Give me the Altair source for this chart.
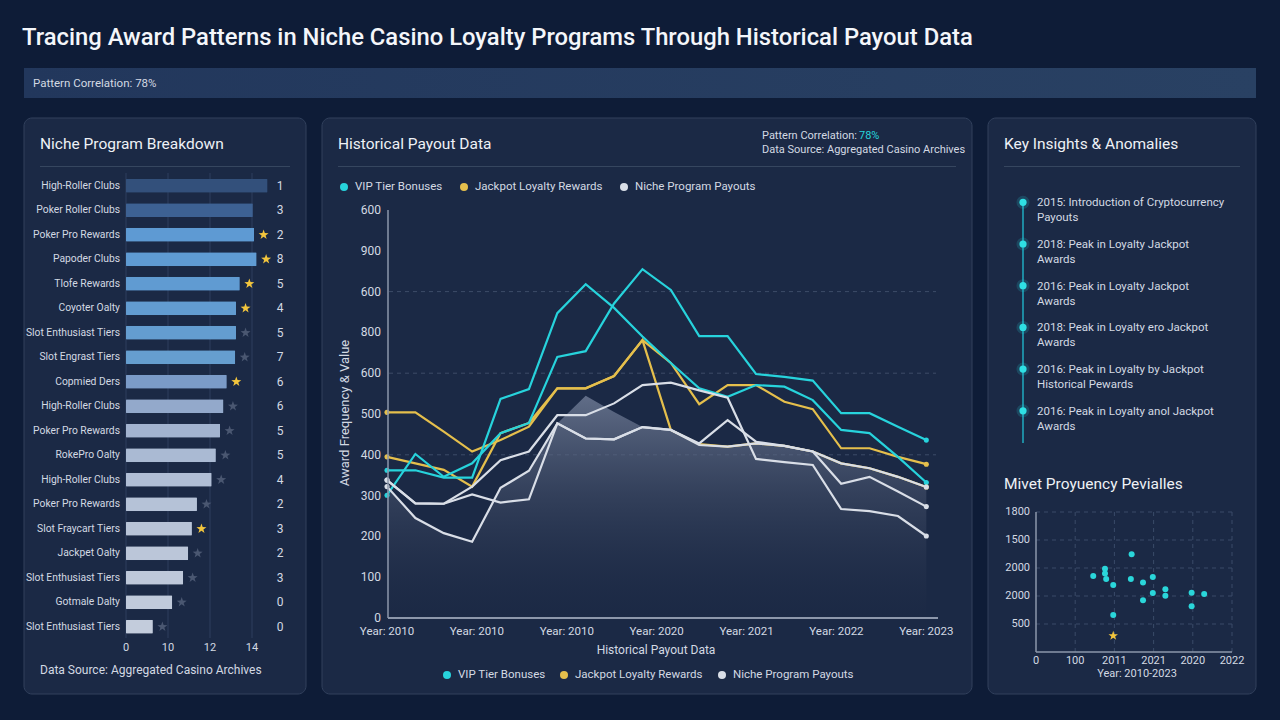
import altair as alt
import pandas as pd

# ------------------------------------------------------------------ data
TITLE = "Tracing Award Patterns in Niche Casino Loyalty Programs Through Historical Payout Data"
BANNER_TEXT = "Pattern Correlation: 78%"

LEFT_TITLE = "Niche Program Breakdown"
LEFT_SOURCE = "Data Source: Aggregated Casino Archives"
bar_labels = [
    "High-Roller Clubs", "Poker Roller Clubs", "Poker Pro Rewards", "Papoder Clubs",
    "Tlofe Rewards", "Coyoter Oalty", "Slot Enthusiast Tiers", "Slot Engrast Tiers",
    "Copmied Ders", "High-Roller Clubs", "Poker Pro Rewards", "RokePro Oalty",
    "High-Roller Clubs", "Poker Pro Rewards", "Slot Fraycart Tiers", "Jackpet Oalty",
    "Slot Enthusiast Tiers", "Gotmale Dalty", "Slot Enthusiast Tiers",
]
bar_values = [3.37, 3.02, 3.05, 3.11, 2.71, 2.62, 2.62, 2.60, 2.40, 2.32,
              2.24, 2.14, 2.04, 1.69, 1.57, 1.48, 1.36, 1.10, 0.64]
bar_ranks = ["1", "3", "2", "8", "5", "4", "5", "7", "6", "6",
             "5", "5", "4", "2", "3", "2", "3", "0", "0"]
bar_stars = ["none", "none", "gold", "gold", "gold", "gold", "grey", "grey", "gold", "grey",
             "grey", "grey", "grey", "grey", "gold", "grey", "grey", "grey", "grey"]
bar_ticks = [0, 1, 2, 3]
bar_tick_labels = ["0", "10", "12", "14"]

MID_TITLE = "Historical Payout Data"
MID_NOTE_1 = "Pattern Correlation: "
MID_NOTE_PCT = "78%"
MID_NOTE_2 = "Data Source: Aggregated Casino Archives"
series_names = ["VIP Tier Bonuses", "Jackpot Loyalty Rewards", "Niche Program Payouts"]
vip_a = [362, 362, 344, 344, 537, 561, 747, 818, 760, 690, 625, 563, 542, 571, 567, 534, 461, 453, 395, 332]
vip_b = [301, 402, 346, 379, 453, 478, 640, 654, 771, 855, 804, 691, 691, 598, 591, 582, 502, 502, 469, 436]
jackpot_a = [504, 504, 457, 408, 436, 469, 563, 563, 593, 681, 461, 426, 420, 428, 422, 408, 379, 367, 346, 321]
jackpot_b = [395, 379, 363, 322, 453, 478, 563, 563, 593, 681, 625, 524, 571, 571, 530, 512, 416, 416, 395, 377]
niche_a = [338, 281, 280, 303, 283, 291, 477, 440, 438, 468, 461, 428, 485, 432, 422, 408, 329, 346, 310, 273]
niche_b = [338, 281, 280, 322, 387, 408, 497, 497, 526, 571, 577, 558, 540, 390, 382, 375, 267, 262, 250, 201]
niche_c = [322, 245, 208, 187, 319, 361, 477, 440, 438, 468, 461, 424, 420, 428, 422, 408, 379, 367, 346, 321]
niche_area = [322, 245, 208, 187, 319, 361, 477, 545, 505, 468, 461, 424, 420, 428, 422, 408, 379, 367, 346, 321]
year_ticks = [0, 1, 2, 3, 4, 5, 6]
year_labels = ["Year: 2010", "Year: 2010", "Year: 2010", "Year: 2020", "Year: 2021", "Year: 2022", "Year: 2023"]
value_ticks = [0, 100, 200, 300, 400, 500, 600, 700, 800, 900, 1000]
value_tick_labels = ["0", "100", "200", "300", "400", "500", "600", "800", "600", "900", "600"]
grid_values = [400, 600, 800]
Y_TITLE = "Award Frequency & Value"
X_TITLE = "Historical Payout Data"

RIGHT_TITLE = "Key Insights & Anomalies"
insights = [
    "2015: Introduction of Cryptocurrency\nPayouts",
    "2018: Peak in Loyalty Jackpot\nAwards",
    "2016: Peak in Loyalty Jackpot\nAwards",
    "2018: Peak in Loyalty ero Jackpot\nAwards",
    "2016: Peak in Loyalty by Jackpot\nHistorical Pewards",
    "2016: Peak in Loyalty anol Jackpot\nAwards",
]
SCATTER_TITLE = "Mivet Proyuency Pevialles"
SCATTER_X_TITLE = "Year: 2010-2023"
scatter_x = [1.46, 1.76, 1.76, 1.79, 1.97, 1.97, 2.44, 2.42, 2.73, 2.73, 2.98, 2.98, 3.30, 3.30, 3.97, 3.97, 4.29]
scatter_y = [2.71, 2.97, 2.80, 2.61, 2.39, 1.32, 3.49, 2.61, 2.48, 1.85, 2.68, 2.11, 2.24, 2.01, 2.12, 1.63, 2.07]
outlier_x = [1.97]
outlier_y = [0.58]
scatter_x_ticks = [0, 1, 2, 3, 4, 5]
scatter_x_labels = ["0", "100", "2011", "2021", "2020", "2022"]
scatter_y_ticks = [1, 2, 3, 4, 5]
scatter_y_labels = ["500", "2000", "2000", "1500", "1800"]

# ------------------------------------------------------------------ style / layout
W, H = 1280, 720
FONT = "Roboto"
BG = "#0e1c37"
PANEL_FILL = "#1b2945"
PANEL_STROKE = "#32415d"
SEP = "#36465f"
TXT = "#eef1f6"
TXT2 = "#d3d9e3"
AXIS_LINE = "#8d97ab"
GRID = "#2f3f5e"
CYAN = "#27d3dc"
GOLD = "#e5bf4c"
WHITE = "#d9dee7"
STAR_GOLD = "#f2c53d"
STAR_GREY = "#4a5771"
BAR_FILLS = ["#33507b", "#3d6193", "#5e9ad3", "#5f9bd3", "#609bd2", "#629cd1", "#649dd0",
             "#669ecf", "#7b9bc8", "#93a9cb", "#a2b3cf", "#aabad3", "#b0bed5", "#b5c2d7",
             "#b8c4d8", "#bbc6d9", "#bec8da", "#c0cadb", "#c3ccdc"]
STAR = ("M0,-1L0.235,-0.324L0.951,-0.309L0.38,0.124L0.588,0.809L0,0.4"
        "L-0.588,0.809L-0.38,0.124L-0.951,-0.309L-0.235,-0.324Z")

PANELS = [(24, 306, 118, 694), (322, 972, 118, 694), (988, 1256, 118, 694)]
SEPARATORS = [(40, 290, 166.5), (338, 956, 166.5), (1004, 1240, 166.5)]
LEGEND_TOP = ([344, 464, 624], 187)
LEGEND_BOTTOM = ([447, 564, 722], 675)
INSIGHT_Y = [202.3, 244.0, 285.7, 327.4, 369.1, 410.8]

# plot frames (pixels)
BAR_X, BAR_Y = (126, 252), (173.5, 639)
MID_X, MID_Y = (387, 938), (618, 210)
SC_X, SC_Y = (1036, 1232), (652, 512)


def PX(field):
    return alt.X(field, type="quantitative", scale=None, axis=None)


def PY(field):
    return alt.Y(field, type="quantitative", scale=None, axis=None)


def texts(rows, font=FONT, weight="normal", align="left", baseline="middle", **kw):
    df = pd.DataFrame(rows, columns=["x", "y", "text", "size", "color"])
    return alt.Chart(df).mark_text(font=font, fontWeight=weight, align=align,
                                   baseline=baseline, **kw).encode(
        x=PX("x"), y=PY("y"), text="text:N",
        size=alt.Size("size:Q", scale=None, legend=None),
        color=alt.Color("color:N", scale=None, legend=None),
    )


def tick_text(field, ticks, labels, channel, fixed, align, size, dx=0):
    df = pd.DataFrame({field: ticks, "label": labels})
    enc = {"text": "label:N"}
    if channel == "x":
        enc["x"] = alt.X(f"{field}:Q", axis=None)
        enc["y"] = alt.value(fixed)
    else:
        enc["y"] = alt.Y(f"{field}:Q", axis=None)
        enc["x"] = alt.value(fixed)
    return alt.Chart(df).mark_text(font=FONT, fontSize=size, align=align, baseline="middle",
                                   color=TXT2, dx=dx).encode(**enc)


def frame_rule(x, y, x2=None, y2=None, width=1.2):
    enc = {"x": alt.value(x), "y": alt.value(y)}
    if x2 is not None:
        enc["x2"] = alt.value(x2)
    if y2 is not None:
        enc["y2"] = alt.value(y2)
    return alt.Chart(pd.DataFrame({"k": [0]})).mark_rule(color=AXIS_LINE, strokeWidth=width).encode(**enc)


series_scale = alt.Scale(domain=series_names, range=[CYAN, GOLD, WHITE])

layers = []

# ---- panels, banner, separators
panels_df = pd.DataFrame(PANELS, columns=["x", "x2", "y", "y2"])
layers.append(alt.Chart(panels_df).mark_rect(cornerRadius=8, fill=PANEL_FILL, stroke=PANEL_STROKE,
                                             strokeWidth=1).encode(
    x=PX("x"), x2="x2:Q", y=PY("y"), y2="y2:Q"))
banner_df = pd.DataFrame([(24, 1256, 68, 98)], columns=["x", "x2", "y", "y2"])
layers.append(alt.Chart(banner_df).mark_rect(
    color=alt.Gradient(gradient="linear", stops=[alt.GradientStop(color="#22375c", offset=0),
                                                 alt.GradientStop(color="#294163", offset=1)],
                       x1=0, x2=1, y1=0, y2=0)).encode(
    x=PX("x"), x2="x2:Q", y=PY("y"), y2="y2:Q"))
sep_df = pd.DataFrame(SEPARATORS, columns=["x", "x2", "y"])
layers.append(alt.Chart(sep_df).mark_rule(color=SEP, strokeWidth=1).encode(
    x=PX("x"), x2="x2:Q", y=PY("y")))

# ---- headings and notes
layers.append(texts([(22, 38, TITLE, 23.8, "#f4f6fa")], weight=500))
layers.append(texts([
    (40, 144, LEFT_TITLE, 15.5, TXT),
    (338, 144, MID_TITLE, 15.5, TXT),
    (1004, 144, RIGHT_TITLE, 15.5, TXT),
    (1004, 484, SCATTER_TITLE, 15.5, TXT),
]))
layers.append(texts([
    (33, 84, BANNER_TEXT, 11.5, TXT2),
    (40, 670, LEFT_SOURCE, 12, TXT2),
    (762, 136, MID_NOTE_1, 11, TXT2),
    (859, 136, MID_NOTE_PCT, 11, CYAN),
    (762, 150, MID_NOTE_2, 11, TXT2),
]))
layers.append(texts([
    (656, 650, X_TITLE, 12, TXT2),
    (1137, 674, SCATTER_X_TITLE, 11, TXT2),
], align="center"))
layers.append(texts([(345, 413, Y_TITLE, 13, TXT2)], align="center", angle=270))

# ---- left: bar chart
bars_df = pd.DataFrame({"idx": range(len(bar_labels)), "label": bar_labels, "value": bar_values,
                        "rank": bar_ranks, "star": bar_stars, "fill": BAR_FILLS})
bar_grid_df = pd.DataFrame({"value": bar_ticks})
bx_scale = alt.Scale(domain=[0, 3], range=list(BAR_X), nice=False, zero=False)
by_scale = alt.Scale(range=list(BAR_Y), paddingInner=0.43, paddingOuter=0.215)
bar_grid = alt.Chart(bar_grid_df).mark_rule(color=GRID, strokeWidth=1).encode(
    x=alt.X("value:Q", axis=None), y=alt.value(173), y2=alt.value(638))
bars = alt.Chart(bars_df).mark_bar(cornerRadius=1).encode(
    x=alt.X("value:Q", scale=bx_scale, axis=None),
    y=alt.Y("idx:O", scale=by_scale, axis=None),
    color=alt.Color("fill:N", scale=None, legend=None),
)
stars = alt.Chart(bars_df[bars_df["star"] != "none"]).mark_point(
    shape=STAR, filled=True, size=110, opacity=1, xOffset=9.5).encode(
    x=alt.X("value:Q", axis=None), y=alt.Y("idx:O", axis=None),
    color=alt.Color("star:N", scale=alt.Scale(domain=["gold", "grey"], range=[STAR_GOLD, STAR_GREY]),
                    legend=None))
bar_names = alt.Chart(bars_df).mark_text(font=FONT, fontSize=10.3, align="right", color=TXT2).encode(
    x=alt.value(120), y=alt.Y("idx:O", axis=None), text="label:N")
bar_nums = alt.Chart(bars_df).mark_text(font=FONT, fontSize=12, align="center", color=TXT2).encode(
    x=alt.value(280), y=alt.Y("idx:O", axis=None), text="rank:N")
bar_xlabels = tick_text("value", bar_ticks, bar_tick_labels, "x", 648, "center", 11)
layers.append(alt.layer(bar_grid, bars, stars, bar_names, bar_nums, bar_xlabels))

# ---- middle: line chart
step = 6 / 19
line_sets = [
    ("vip_a", series_names[0], vip_a), ("vip_b", series_names[0], vip_b),
    ("jackpot_a", series_names[1], jackpot_a), ("jackpot_b", series_names[1], jackpot_b),
    ("niche_a", series_names[2], niche_a), ("niche_b", series_names[2], niche_b),
    ("niche_c", series_names[2], niche_c),
]
recs = []
for lid, grp, vals in line_sets:
    for i, v in enumerate(vals):
        recs.append({"line": lid, "group": grp, "i": i, "t": i * step, "value": v})
lines_df = pd.DataFrame(recs)
area_df = pd.DataFrame({"t": [i * step for i in range(len(niche_area))], "value": niche_area})
grid_df = pd.DataFrame({"value": grid_values})

lx_scale = alt.Scale(domain=[0, 6.13], range=list(MID_X), nice=False, zero=False)
ly_scale = alt.Scale(domain=[0, 1000], range=list(MID_Y), nice=False)
mid_grid = alt.Chart(grid_df).mark_rule(color="#3d4c68", strokeDash=[4, 4], strokeWidth=1).encode(
    y=alt.Y("value:Q", axis=None), x=alt.value(389), x2=alt.value(936))
mid_area = alt.Chart(area_df).mark_area(
    color=alt.Gradient(gradient="linear",
                       stops=[alt.GradientStop(color="rgba(120,132,158,0.75)", offset=0),
                              alt.GradientStop(color="rgba(70,82,108,0.55)", offset=0.45),
                              alt.GradientStop(color="rgba(30,42,68,0.15)", offset=1)],
                       x1=1, x2=1, y1=0, y2=1)).encode(
    x=alt.X("t:Q", scale=lx_scale, axis=None),
    y=alt.Y("value:Q", scale=ly_scale, axis=None),
)


def line_layer(grp):
    return alt.Chart(lines_df[lines_df["group"] == grp]).mark_line(strokeWidth=2.2).encode(
        x=alt.X("t:Q", axis=None), y=alt.Y("value:Q", axis=None),
        color=alt.Color("group:N", scale=series_scale, legend=None), detail="line:N")


ends_df = lines_df[lines_df["i"].isin([0, 19])]
mid_dots = alt.Chart(ends_df).mark_circle(size=26, opacity=1).encode(
    x=alt.X("t:Q", axis=None), y=alt.Y("value:Q", axis=None),
    color=alt.Color("group:N", scale=series_scale, legend=None))
mid_xlabels = tick_text("t", year_ticks, year_labels, "x", 632, "center", 11.5)
mid_ylabels = tick_text("value", value_ticks, value_tick_labels, "y", 381, "right", 12)
layers.append(alt.layer(mid_grid, mid_area, line_layer(series_names[1]),
                        line_layer(series_names[0]), line_layer(series_names[2]), mid_dots,
                        mid_xlabels, mid_ylabels))
layers.append(frame_rule(MID_X[0] + 1, MID_Y[1], y2=MID_Y[0], width=1.5))
layers.append(frame_rule(MID_X[0] + 1, MID_Y[0], x2=MID_X[1], width=2))

# ---- legends
for xs, ly in (LEGEND_TOP, LEGEND_BOTTOM):
    leg_df = pd.DataFrame({"name": series_names, "x": xs, "y": [ly] * 3})
    leg_df["tx"] = leg_df["x"] + 11
    layers.append(alt.Chart(leg_df).mark_circle(size=64, opacity=1).encode(
        x=PX("x"), y=PY("y"), color=alt.Color("name:N", scale=series_scale, legend=None)))
    layers.append(alt.Chart(leg_df).mark_text(font=FONT, fontSize=11.5, align="left",
                                              baseline="middle", color=TXT2).encode(
        x=PX("tx"), y=PY("y"), text="name:N"))

# ---- right: insights timeline
ins_df = pd.DataFrame({"text": insights, "y": INSIGHT_Y})
ins_df["ty"] = ins_df["y"] - 5
layers.append(alt.Chart(pd.DataFrame({"y": [202], "y2": [443]})).mark_rule(
    color="#1e8aa1", strokeWidth=2).encode(x=alt.value(1023), y=PY("y"), y2="y2:Q"))
layers.append(alt.Chart(ins_df).mark_circle(size=170, opacity=0.18, color=CYAN).encode(
    x=alt.value(1023), y=PY("y")))
layers.append(alt.Chart(ins_df).mark_circle(size=52, opacity=1, color="#2fe0e4").encode(
    x=alt.value(1023), y=PY("y")))
layers.append(alt.Chart(ins_df).mark_text(font=FONT, fontSize=11.5, align="left", baseline="top",
                                          lineBreak="\n", lineHeight=15, color=TXT2).encode(
    x=alt.value(1037), y=PY("ty"), text="text:N"))

# ---- right: scatter
sc_df = pd.DataFrame({"u": scatter_x, "v": scatter_y})
out_df = pd.DataFrame({"u": outlier_x, "v": outlier_y})
sx_scale = alt.Scale(domain=[0, 5], range=list(SC_X), nice=False, zero=False)
sy_scale = alt.Scale(domain=[0, 5], range=list(SC_Y), nice=False, zero=False)
vgrid = alt.Chart(pd.DataFrame({"u": scatter_x_ticks[1:]})).mark_rule(
    color="#3a4a68", strokeDash=[4, 4], strokeWidth=1).encode(
    x=alt.X("u:Q", axis=None), y=alt.value(SC_Y[1]), y2=alt.value(SC_Y[0]))
hgrid = alt.Chart(pd.DataFrame({"v": scatter_y_ticks})).mark_rule(
    color="#3a4a68", strokeDash=[4, 4], strokeWidth=1).encode(
    y=alt.Y("v:Q", axis=None), x=alt.value(SC_X[0]), x2=alt.value(SC_X[1]))
sc_pts = alt.Chart(sc_df).mark_circle(size=36, opacity=1, color="#2ad6da").encode(
    x=alt.X("u:Q", scale=sx_scale, axis=None),
    y=alt.Y("v:Q", scale=sy_scale, axis=None),
)
sc_star = alt.Chart(out_df).mark_point(shape=STAR, filled=True, size=100, opacity=1,
                                       color=STAR_GOLD).encode(
    x=alt.X("u:Q", axis=None), y=alt.Y("v:Q", axis=None))
sc_xlabels = tick_text("u", scatter_x_ticks, scatter_x_labels, "x", 661, "center", 11)
sc_ylabels = tick_text("v", scatter_y_ticks, scatter_y_labels, "y", 1030, "right", 11)
layers.append(alt.layer(vgrid, hgrid, sc_pts, sc_star, sc_xlabels, sc_ylabels))
layers.append(frame_rule(SC_X[0], SC_Y[1], y2=SC_Y[0], width=1.5))
layers.append(frame_rule(SC_X[0], SC_Y[0], x2=SC_X[1], width=1.5))

chart = alt.layer(*layers).properties(
    width=W, height=H, background=BG, padding=0,
    autosize=alt.AutoSizeParams(type="none"),
).resolve_scale(
    x="independent", y="independent", color="independent", size="independent"
).configure_view(stroke=None)

chart.save("out.html", embed_options={"renderer": "svg", "actions": False})
